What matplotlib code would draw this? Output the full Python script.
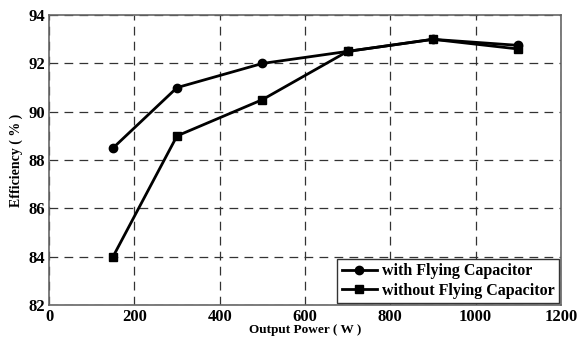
import matplotlib
matplotlib.use('Agg')
import matplotlib.pyplot as plt

power = [150, 300, 500, 700, 900, 1100]
eff_with = [88.5, 91.0, 92.0, 92.5, 93.0, 92.75]
eff_without = [84.0, 89.0, 90.5, 92.5, 93.0, 92.6]

plt.rcParams['font.family'] = 'Liberation Serif'
plt.rcParams['font.weight'] = 'bold'

fig = plt.figure(figsize=(5.77, 3.37), dpi=100)
ax = fig.add_axes([0.085, 0.095, 0.887, 0.86])

ax.plot(power, eff_with, '-o', color='black', lw=2.0, ms=6, label='with Flying Capacitor')
ax.plot(power, eff_without, '-s', color='black', lw=2.0, ms=6, label='without Flying Capacitor')

ax.set_xlim(0, 1200)
ax.set_ylim(82, 94)
ax.set_xticks(range(0, 1201, 200))
ax.set_yticks(range(82, 95, 2))
ax.grid(True, linestyle=(0, (7, 5)), color='#333333', lw=0.9)
for s in ax.spines.values():
    s.set_color('#666666')
    s.set_linewidth(1.2)
ax.tick_params(labelsize=12, length=0, pad=3)
for lab in ax.get_xticklabels() + ax.get_yticklabels():
    lab.set_fontweight('bold')

ax.set_xlabel('Output Power ( W )', fontsize=9.5, fontweight='bold', labelpad=-1)
ax.set_ylabel('Efficiency ( % )', fontsize=10, fontweight='bold', labelpad=4)

leg = ax.legend(loc='lower right', fontsize=11.5, fancybox=False, framealpha=1,
                edgecolor='#333333', handlelength=2.2, borderpad=0.3,
                labelspacing=0.2, borderaxespad=0.1, handletextpad=0.3)
leg.get_frame().set_linewidth(1.0)
for t in leg.get_texts():
    t.set_fontweight('bold')

plt.savefig('out.png')
